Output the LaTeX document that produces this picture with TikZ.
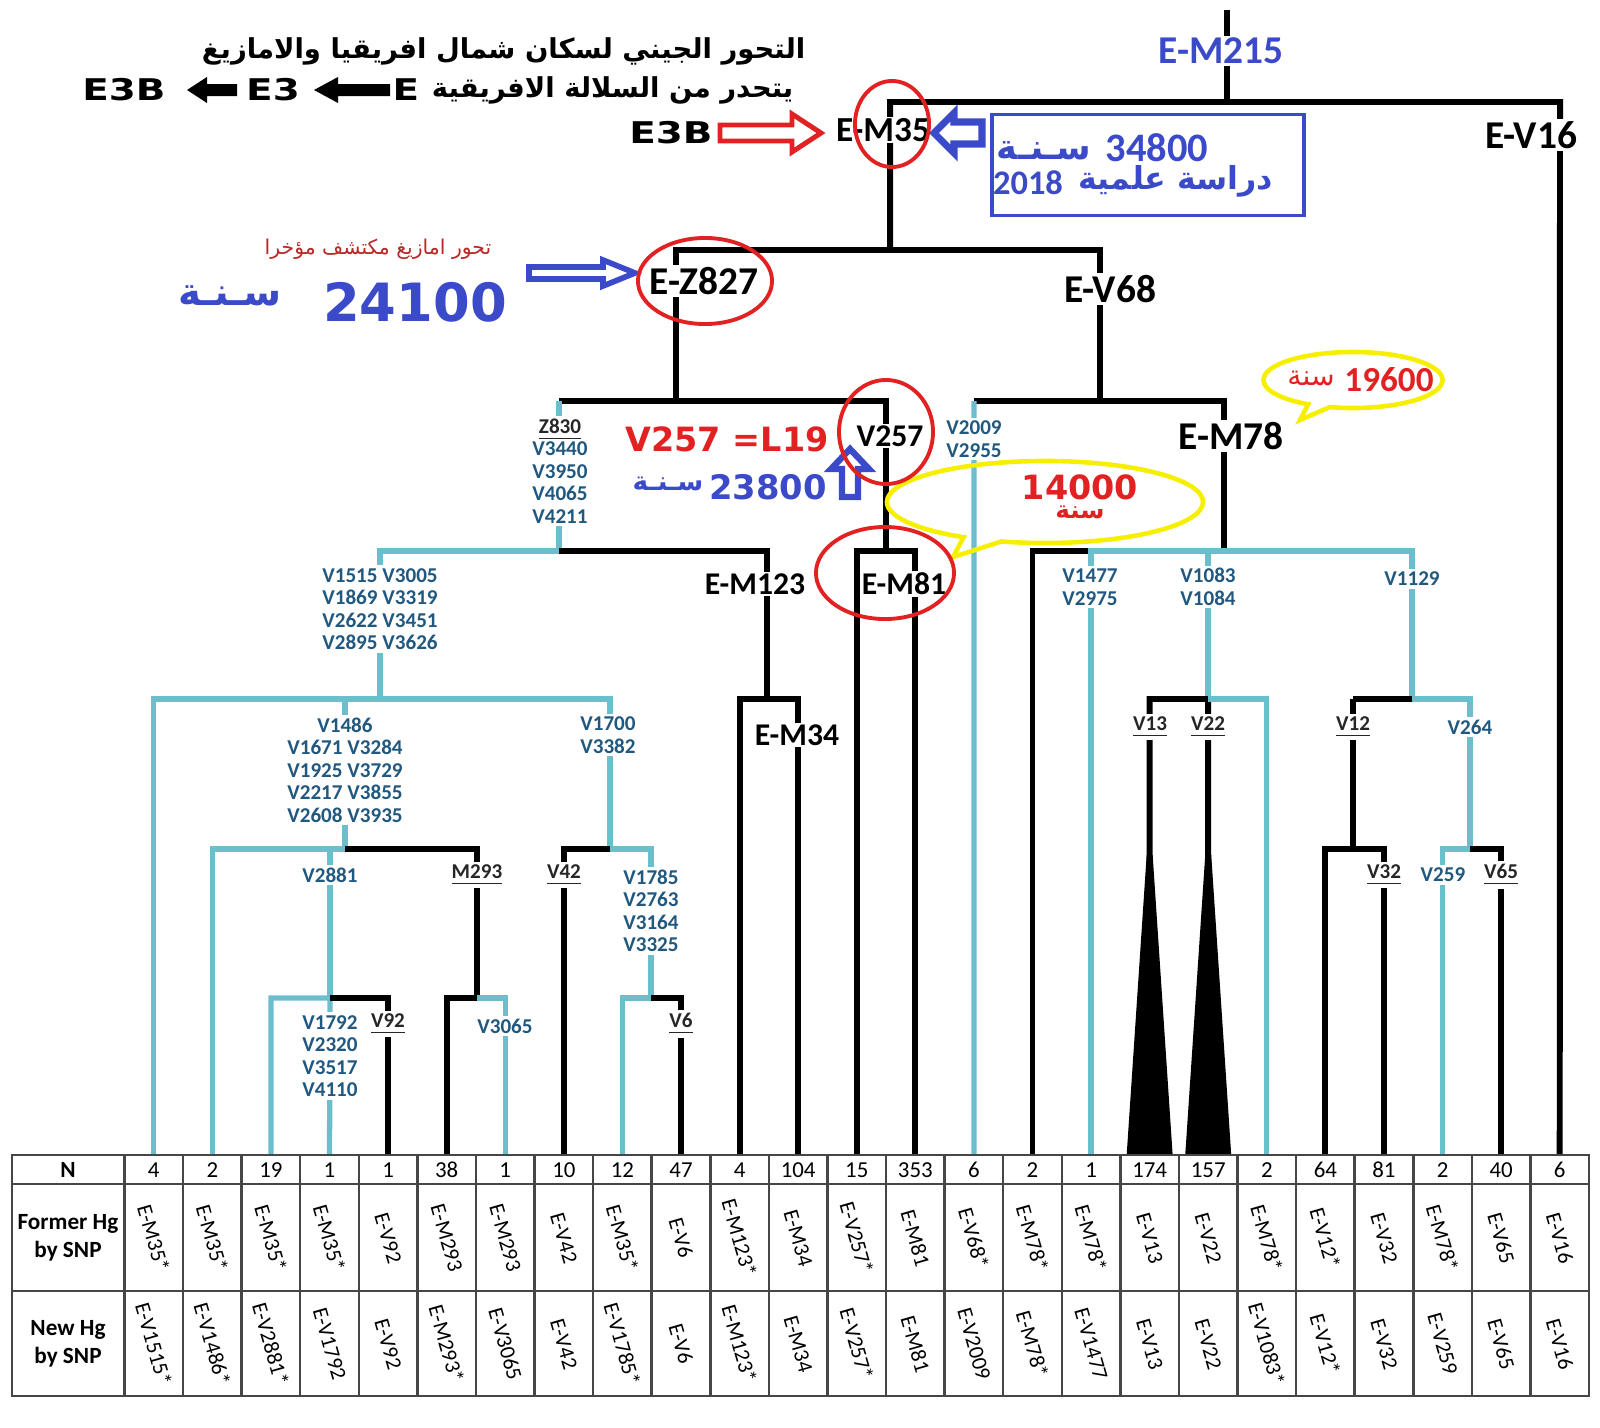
\documentclass[tikz,border=0pt]{standalone}
\usepackage{fontspec}
\setmainfont{Carlito}
\newfontfamily\arabicfont[Script=Arabic]{DejaVu Sans}
\newfontfamily\widefont{DejaVu Sans}
\TeXXeTstate=1
\usetikzlibrary{shapes.callouts}

\definecolor{tealline}{RGB}{108,190,205}
\definecolor{snptext}{RGB}{32,88,128}
\definecolor{annblue}{RGB}{58,74,200}
\definecolor{annred}{RGB}{226,34,34}
\definecolor{darkred}{RGB}{185,40,40}
\definecolor{callyellow}{RGB}{246,240,0}
\definecolor{tabgray}{RGB}{70,70,70}

\tikzset{
  blk/.style={line width=1.7pt,black},
  tl/.style={line width=1.5pt,tealline},
  hg/.style={font=\bfseries\fontsize{11.2}{13}\selectfont,fill=white,inner sep=0.6pt},
  hgs/.style={font=\bfseries\fontsize{9}{11}\selectfont,fill=white,inner sep=0.5pt},
  snp/.style={font=\bfseries\fontsize{6}{6.4}\selectfont,text=snptext,align=center,fill=white,inner sep=0.8pt},
  snpu/.style={snp,text=black!85},
  ring/.style={annred,line width=1.1pt},
  tab/.style={tabgray,line width=0.7pt},
  cellnum/.style={font=\fontsize{6.5}{7}\selectfont,inner sep=0pt},
  cellrot/.style={font=\fontsize{6.2}{7}\selectfont,rotate=-74,inner sep=0pt},
  hdr/.style={font=\bfseries\fontsize{6.6}{8}\selectfont,align=center,inner sep=0pt},
  arb/.style={font=\arabicfont\bfseries\fontsize{7.8}{9}\selectfont,inner sep=0pt},
  wide/.style={font=\widefont\bfseries\fontsize{8.5}{10}\selectfont,inner sep=0pt}
}

\begin{document}
\begin{tikzpicture}[x=0.01cm,y=-0.01cm]
\useasboundingbox (0,0) rectangle (1600,1427);

% pieds des branches
\foreach \i in {1,...,25} \coordinate (leaf\i) at ({124.5+58.58*(\i-0.5)},1155);

\coordinate (m215) at (1227,10);   \coordinate (m215b) at (1227,102);
\coordinate (v16t) at (1560,102);
\coordinate (m35b) at (890,250);
\coordinate (z827b) at (676,401);
\coordinate (v68t) at (1100,250);  \coordinate (v68b) at (1100,401);
\coordinate (z830t) at (559,401);  \coordinate (z830b) at (559,551);
\coordinate (v257b) at (886,551);
\coordinate (v2009t) at (974,401);
\coordinate (m78b) at (1224,551);
\coordinate (v1515t) at (380,551); \coordinate (v1515b) at (380,699);
\coordinate (m123b) at (767,699);
\coordinate (v1486t) at (345,699); \coordinate (v1486b) at (345,849);
\coordinate (v1700t) at (610,699); \coordinate (v1700b) at (610,849);
\coordinate (v2881t) at (330,849); \coordinate (v2881b) at (330,998);
\coordinate (m293b) at (477,998);
\coordinate (v1785t) at (651,849); \coordinate (v1785b) at (651,998);
\coordinate (v1083t) at (1208,551); \coordinate (v1083b) at (1208,699);
\coordinate (v1129t) at (1412,551); \coordinate (v1129b) at (1412,699);
\coordinate (v12t) at (1353,699);  \coordinate (v12b) at (1353,849);
\coordinate (v264t) at (1470,699); \coordinate (v264b) at (1470,849);

% arbre : partie haute
\draw[blk] (m215) -- (m215b);
\draw[blk] (m35b) |- (v16t) -- (leaf25);
\draw[blk] (z827b) |- (v68t) -- (v68b);
\draw[blk] (z830t) -| (v257b);
\draw[blk] (leaf13) |- (leaf14 |- v257b) -- (leaf14);
\draw[blk] (v2009t) -| (m78b);
\draw[tl] (v2009t) -- (leaf15);

% E-Z827 gauche
\draw[tl] (z830t) -- (z830b) -- (v1515t) -- (v1515b);
\draw[blk] (z830b) -| (m123b);
\draw[blk] (leaf11) |- (leaf12 |- m123b) -- (leaf12);
\draw[tl] (leaf1) |- (v1700t) -- (v1700b);
\draw[tl] (v1486t) -- (v1486b);
\draw[tl] (leaf2) |- (v1486b);
\draw[blk] (v1486b) -| (m293b);
\draw[tl] (v2881t) -- (v2881b);
\draw[tl] (leaf3) |- (v2881b) -- (leaf4);
\draw[blk] (v2881b) -| (leaf5);
\draw[blk] (leaf6) |- (m293b);
\draw[tl] (m293b) -| (leaf7);
\draw[blk] (leaf8) |- (v1700b);
\draw[tl] (v1700b) -| (v1785b);
\draw[tl] (leaf9) |- (v1785b);
\draw[blk] (v1785b) -| (leaf10);

% E-M78
\draw[blk] (leaf16) |- (leaf17 |- m78b);
\draw[tl] (leaf17) |- (v1129t) -- (v1129b);
\draw[tl] (v1083t) -- (v1083b);
\draw[blk] (leaf18) |- (v1083b) -- (leaf19);
\draw[tl] (v1083b) -| (leaf20);
\fill (leaf18) ++(-23,0) -- ++(20,-300) -- ++(6,0) -- ++(20,300) -- cycle;
\fill (leaf19) ++(-23,0) -- ++(20,-300) -- ++(6,0) -- ++(20,300) -- cycle;
\draw[blk] (v12t) -- (v1129b);
\draw[tl] (v1129b) -- (v264t) -- (v264b);
\draw[blk] (v12t) -- (v12b);
\draw[blk] (leaf21) |- (leaf22 |- v12b) -- (leaf22);
\draw[tl] (leaf23) |- (v264b);
\draw[blk] (v264b) -| (leaf24);

% noms des haplogroupes
\node[hg,text=annblue] (lm215) at (1221,51) {E-M215};
\node[hg] (lv16) at (1531,135) {E-V16};
\node[hgs,font=\bfseries\fontsize{10}{12}\selectfont] (lm35) at (883,130) {E-M35};
\node[hg] (lz827) at (704,281) {E-Z827};
\node[hg] (lv68) at (1110,289) {E-V68};
\node[hgs] (lv257) at (890,436) {V257};
\node[hg] (lm78) at (1231,436) {E-M78};
\node[hgs] (lm123) at (755,584) {E-M123};
\node[hgs] (lm81) at (904,584) {E-M81};
\node[hgs] (lm34) at (797,735) {E-M34};

% SNP
\node[snp] (sz830) at (560,471) {\textcolor{black!85}{\underline{Z830}}\\V3440\\V3950\\V4065\\V4211};
\node[snp] (s2009) at (974,439) {V2009\\V2955};
\node[snp] (s1515) at (380,609) {V1515 V3005\\V1869 V3319\\V2622 V3451\\V2895 V3626};
\node[snp] (s1486) at (345,770) {V1486\\V1671 V3284\\V1925 V3729\\V2217 V3855\\V2608 V3935};
\node[snp] (s1700) at (608,735) {V1700\\V3382};
\node[snp] (s2881) at (330,875) {V2881};
\node[snpu] (s293) at (477,875) {\underline{M293}};
\node[snpu] (s42) at (564,875) {\underline{V42}};
\node[snp] (s1785) at (651,911) {V1785\\V2763\\V3164\\V3325};
\node[snp] (s1792) at (330,1056) {V1792\\V2320\\V3517\\V4110};
\node[snpu] (s92) at (388,1024) {\underline{V92}};
\node[snp] (s3065) at (505,1026) {V3065};
\node[snpu] (s6) at (681,1024) {\underline{V6}};
\node[snp] (s1477) at (1090,587) {V1477\\V2975};
\node[snp] (s1083) at (1208,587) {V1083\\V1084};
\node[snp] (s1129) at (1412,579) {V1129};
\node[snpu] (s13) at (1150,727) {\underline{V13}};
\node[snpu] (s22) at (1208,727) {\underline{V22}};
\node[snpu] (s12) at (1353,727) {\underline{V12}};
\node[snp] (s264) at (1470,727) {V264};
\node[snpu] (s32) at (1384,875) {\underline{V32}};
\node[snp] (s259) at (1443,875) {V259};
\node[snpu] (s65) at (1501,875) {\underline{V65}};

% tableau
\draw[tab] (12,1155) rectangle (1589,1396);
\draw[tab] (12,1184) -- (1589,1184);
\draw[tab] (12,1291) -- (1589,1291);
\foreach \i in {0,...,24} \draw[tab] ({124.5+58.58*\i},1155) -- ({124.5+58.58*\i},1396);
\node[hdr] (hn) at (68,1170) {N};
\node[hdr] (hold) at (68,1238) {Former Hg\\by SNP};
\node[hdr] (hnew) at (68,1344) {New Hg\\by SNP};
\foreach \nb/\former/\newhg [count=\i] in {4/E-M35*/E-V1515*, 2/E-M35*/E-V1486*,
  19/E-M35*/E-V2881*, 1/E-M35*/E-V1792, 1/E-V92/E-V92, 38/E-M293/E-M293*,
  1/E-M293/E-V3065, 10/E-V42/E-V42, 12/E-M35*/E-V1785*, 47/E-V6/E-V6,
  4/E-M123*/E-M123*, 104/E-M34/E-M34, 15/E-V257*/E-V257*, 353/E-M81/E-M81,
  6/E-V68*/E-V2009, 2/E-M78*/E-M78*, 1/E-M78*/E-V1477, 174/E-V13/E-V13,
  157/E-V22/E-V22, 2/E-M78*/E-V1083*, 64/E-V12*/E-V12*, 81/E-V32/E-V32,
  2/E-M78*/E-V259, 40/E-V65/E-V65, 6/E-V16/E-V16} {
  \node[cellnum] (n\i) at ({124.5+58.58*(\i-0.5)},1170) {\nb};
  \node[cellrot] (old\i) at ({124.5+58.58*(\i-0.5)},1238) {\former};
  \node[cellrot] (new\i) at ({124.5+58.58*(\i-0.5)},1344) {\newhg};
}

% titre
\node[arb,anchor=east] (title1) at (806,51) {\beginR التحور الجيني لسكان شمال افريقيا والامازيغ\endR};
\node[arb,anchor=east] (title2) at (794,90) {\beginR يتحدر من السلالة الافريقية\endR};
\node[wide] (le) at (406,90) {\scalebox{1.3}[1]{E}};
\node[wide] (le3) at (273,90) {\scalebox{1.3}[1]{E3}};
\node[wide] (le3b) at (124,90) {\scalebox{1.3}[1]{E3B}};
\fill (314,90) -- (338,77) -- (338,84) -- (390,84) -- (390,96) -- (338,96) -- (338,103) -- cycle;
\fill (187,90) -- (207,77) -- (207,84) -- (237,84) -- (237,96) -- (207,96) -- (207,103) -- cycle;

% E3B -> E-M35
\node[wide] (e3bred) at (671,133) {\scalebox{1.3}[1]{E3B}};
\draw[annred,line width=1.4pt,fill=white] (821,133) -- (792,114) -- (792,125) -- (720,125) -- (720,141) -- (792,141) -- (792,152) -- cycle;
\draw[annblue,line width=2pt,fill=white] (934,133) -- (954,113) -- (954,122) -- (982,122) -- (982,144) -- (954,144) -- (954,153) -- cycle;
\node[draw=annblue,line width=1.1pt,minimum width=3.12cm,minimum height=1.01cm] (datebox) at (1148,165) {};
\node[font=\bfseries\fontsize{11.5}{13}\selectfont,text=annblue,inner sep=0pt] (y34800) at (1157,148) {34800};
\node[arb,font=\arabicfont\bfseries\fontsize{10}{12}\selectfont,text=annblue] (s34800) at (1044,151) {\beginR سـنـة\endR};
\node[font=\bfseries\fontsize{9.8}{12}\selectfont,text=annblue,inner sep=0pt] (y2018) at (1028,183) {2018};
\node[arb,font=\arabicfont\bfseries\fontsize{9}{11}\selectfont,text=annblue] (study) at (1176,181) {\beginR دراسة علمية\endR};

% E-Z827
\node[font=\arabicfont\fontsize{5.8}{7}\selectfont,text=darkred,inner sep=0pt] (recent) at (378,249) {\beginR تحور امازيغ مكتشف مؤخرا\endR};
\draw[annblue,line width=1.6pt,fill=white] (635,273) -- (603,260) -- (603,267) -- (529,267) -- (529,279) -- (603,279) -- (603,286) -- cycle;
\node[font=\widefont\bfseries\fontsize{15}{17}\selectfont,text=annblue,inner sep=0pt] (y24100) at (415,302) {24100};
\node[font=\arabicfont\bfseries\fontsize{11}{13}\selectfont,text=annblue,inner sep=0pt] (s24100) at (230,296) {\beginR سـنـة\endR};

% V257
\node[font=\widefont\bfseries\fontsize{9.5}{11}\selectfont,text=annred,inner sep=0pt] (l19) at (727,439) {V257 =L19};
\draw[annblue,line width=1.8pt,fill=white] (850,449) -- (869,469) -- (858,469) -- (858,497) -- (842,497) -- (842,469) -- (831,469) -- cycle;
\node[font=\widefont\bfseries\fontsize{9.6}{11}\selectfont,text=annblue,inner sep=0pt] (y23800) at (768,487) {23800};
\node[font=\arabicfont\bfseries\fontsize{7.5}{9}\selectfont,text=annblue,inner sep=0pt] (s23800) at (668,484) {\beginR سـنـة\endR};

% bulles
\node[ellipse callout,draw=callyellow,line width=1.3pt,minimum width=3.16cm,minimum height=0.82cm,
  callout absolute pointer={(953,557)}] (c14000) at (1045,502) {};
\node[font=\widefont\bfseries\fontsize{9.5}{11}\selectfont,text=annred,inner sep=0pt] (y14000) at (1080,487) {14000};
\node[font=\arabicfont\bfseries\fontsize{7}{9}\selectfont,text=annred,inner sep=0pt] (s14000) at (1080,512) {\beginR سنة\endR};
\node[ellipse callout,draw=callyellow,line width=1.3pt,minimum width=1.79cm,minimum height=0.56cm,
  callout absolute pointer={(1300,420)}] (c19600) at (1353,380) {};
\node[font=\bfseries\fontsize{10}{12}\selectfont,text=annred,inner sep=0pt] (y19600) at (1389,380) {19600};
\node[font=\arabicfont\fontsize{8}{10}\selectfont,text=annred,inner sep=0pt] (s19600) at (1311,378) {\beginR سنة\endR};

% cercles rouges
\draw[ring] (892,124) ellipse [x radius=0.37cm,y radius=0.43cm];
\draw[ring] (705,281) ellipse [x radius=0.67cm,y radius=0.43cm];
\draw[ring] (886,432) ellipse [x radius=0.47cm,y radius=0.52cm];
\draw[ring] (885,573) ellipse [x radius=0.69cm,y radius=0.46cm];
\end{tikzpicture}
\end{document}
